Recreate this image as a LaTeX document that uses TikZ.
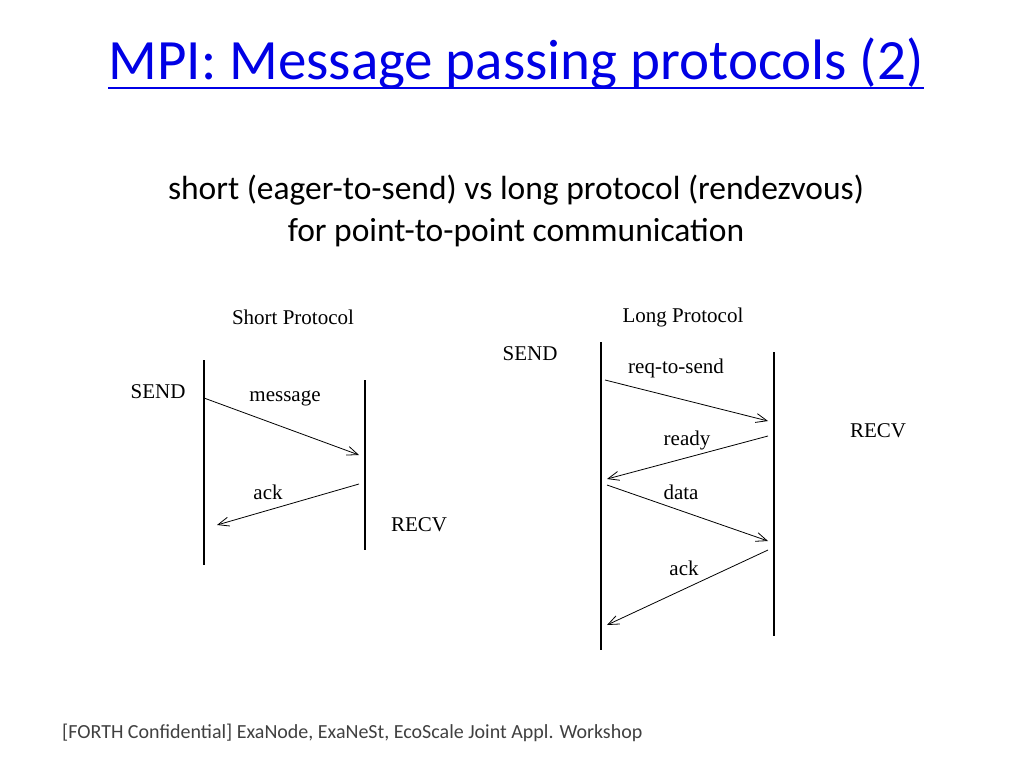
\documentclass[tikz,border=0pt]{standalone}
\usepackage{fontspec}
\setmainfont{Carlito}
\newfontfamily\serif{Liberation Serif}
\usetikzlibrary{arrows.meta}
\begin{document}
\begin{tikzpicture}[x=1pt,y=-1pt,
  life/.style={line width=2.2pt},
  msg/.style={line width=0.8pt,-{Straight Barb[length=11pt,width=9pt,line width=0.8pt]}},
  lbl/.style={font=\serif\fontsize{21}{23}\selectfont,inner sep=0pt}]
\useasboundingbox (0,0) rectangle (1024,768);
\node[font=\fontsize{57}{60}\selectfont,text=blue!90!black,inner sep=0pt] (title) at (516,64) {MPI: Message passing protocols (2)};
\draw[blue!90!black,line width=1.5pt] ([yshift=2pt]title.south west) -- ([yshift=2pt]title.south east);
\node[font=\fontsize{33.5}{42}\selectfont,align=center] (sub) at (516,211) {short (eager-to-send) vs long protocol (rendezvous)\\for point-to-point communication};
\node[font=\fontsize{20}{22}\selectfont,anchor=west,text=black!75,inner sep=0pt] (foot) at (62,733) {[FORTH Confidential] ExaNode, ExaNeSt, EcoScale Joint Appl. Workshop};
% short
\node[lbl] (st) at (293,317) {Short Protocol};
\coordinate (s1) at (204,360); \coordinate (s2) at (204,565);
\coordinate (r1) at (365,380); \coordinate (r2) at (365,550);
\draw[life] (s1) -- (s2); \draw[life] (r1) -- (r2);
\coordinate (a1) at (204,398); \coordinate (a2) at (359,455);
\coordinate (b1) at (359,484); \coordinate (b2) at (217,525);
\draw[msg] (a1) -- (a2); \draw[msg] (b1) -- (b2);
\node[lbl] (ss) at (158,392) {SEND};
\node[lbl] (sm) at (285,398) {message};
\node[lbl] (sa) at (268,492) {ack};
\node[lbl] (sr) at (419,525) {RECV};
% long
\node[lbl] (lt) at (683,317) {Long Protocol};
\coordinate (p1) at (601,342); \coordinate (p2) at (601,650);
\coordinate (q1) at (774,352); \coordinate (q2) at (774,636);
\draw[life] (p1) -- (p2); \draw[life] (q1) -- (q2);
\coordinate (c1) at (605,380); \coordinate (c2) at (768,421);
\coordinate (d1) at (768,436); \coordinate (d2) at (607,479);
\coordinate (e1) at (607,485); \coordinate (e2) at (768,541);
\coordinate (f1) at (768,550); \coordinate (f2) at (607,625);
\draw[msg] (c1) -- (c2); \draw[msg] (d1) -- (d2);
\draw[msg] (e1) -- (e2); \draw[msg] (f1) -- (f2);
\node[lbl] (ls) at (530,354) {SEND};
\node[lbl] (lq) at (676,368) {req-to-send};
\node[lbl] (lr) at (687,440) {ready};
\node[lbl] (ld) at (681,492) {data};
\node[lbl] (la) at (684,568) {ack};
\node[lbl] (lv) at (878,431) {RECV};
\end{tikzpicture}
\end{document}
